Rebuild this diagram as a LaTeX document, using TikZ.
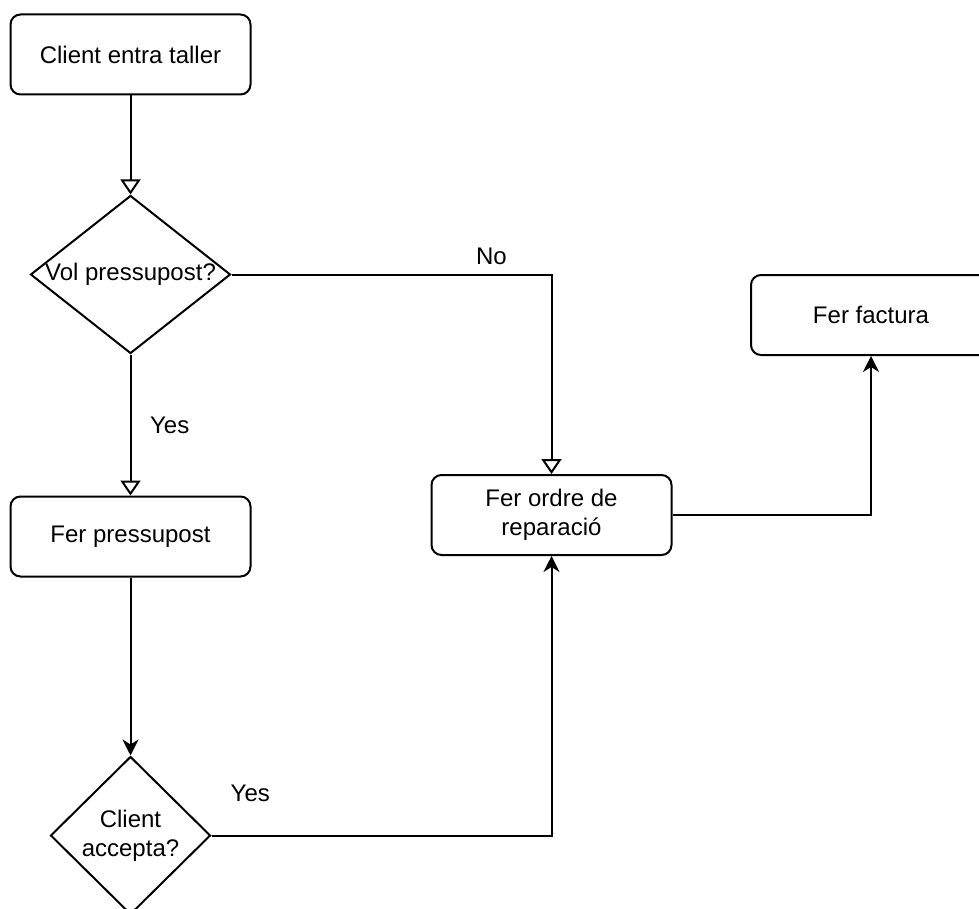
\documentclass[tikz,border=0pt]{standalone}
\usepackage{fontspec}
\setmainfont{Liberation Sans}
\usetikzlibrary{positioning}
\usetikzlibrary{arrows.meta}
\usetikzlibrary{shapes.geometric}

\begin{document}
\begin{tikzpicture}[-,auto,line width=1pt,
                font=\fontsize{12}{14.5}\selectfont,
                box node/.style={rectangle,draw,rounded corners=5pt,minimum width=120pt,minimum height=40pt,align=center,inner sep=2pt},
                choice node/.style={diamond,draw,inner sep=0pt,align=center},
                hollow arrow/.style={-{Triangle[fill=white,width=10pt,length=7.5pt]}},
                solid arrow/.style={-{Stealth[width=8pt,length=8pt,inset=2.5pt]}}]

  \useasboundingbox (0,0) rectangle (489.5pt,-454.5pt);

  \node[box node] (start) at (65.25pt,-27.25pt) {Client entra taller};
  \node[choice node,minimum width=100pt,minimum height=79pt] (ask) [below of=start,node distance=110pt] {\makebox[0pt]{Vol pressupost?}};
  \node[box node] (budget) [below of=ask,node distance=131pt] {Fer pressupost};
  \node[choice node,minimum width=80pt,minimum height=79pt] (accept) [below of=budget,node distance=149.5pt] {Client\\accepta?};
  \node[box node] (order) [right of=budget,node distance=210.5pt,yshift=10.75pt] {Fer ordre de\\reparació};
  \node[box node] (invoice) [above of=order,node distance=100pt,xshift=159.75pt] {Fer factura};

  \draw[hollow arrow] (start) -- (ask);
  \draw[hollow arrow] (ask) -| node[pos=0.406,above=1pt] (no) {No} (order);
  \draw[hollow arrow] (ask) -- node[right=6pt] (yesbudget) {Yes} (budget);
  \draw[solid arrow] (budget) -- (accept);
  \draw[solid arrow] (accept) -| node[pos=0.057,above=13pt] (yesorder) {Yes} (order);
  \draw[solid arrow] (order) -| (invoice);

\end{tikzpicture}
\end{document}
